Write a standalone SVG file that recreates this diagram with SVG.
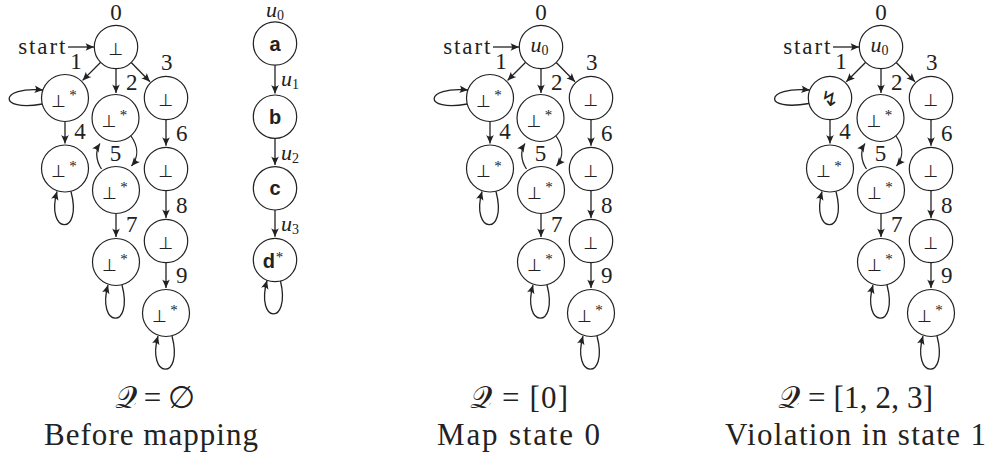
<svg xmlns="http://www.w3.org/2000/svg" width="990" height="457" viewBox="0 0 990 457">
<style>
  .nd circle { fill: #fff; stroke: #222; stroke-width: 1.2; }
  .edge { fill: none; stroke: #222; stroke-width: 1.3; marker-end: url(#arr); }
  .lbl { font-family: "Liberation Serif", serif; font-size: 23px; fill: #222; text-anchor: middle; }
  .st { font-family: "Liberation Serif", serif; font-size: 23px; fill: #222; text-anchor: start; }
  .bot { font-family: "DejaVu Sans", sans-serif; font-size: 17px; fill: #222; text-anchor: middle; }
  .star { font-family: "Liberation Serif", serif; font-size: 15px; fill: #222; }
  .chain { font-family: "Liberation Sans", sans-serif; font-weight: bold; font-size: 20px; fill: #222; text-anchor: middle; }
  .u { font-family: "Liberation Serif", serif; font-style: italic; font-size: 22px; fill: #222; }
  .sub { font-style: normal; font-size: 14px; }
  .cap { font-family: "Liberation Serif", "DejaVu Serif", "DejaVu Sans", serif; font-size: 31px; fill: #222; text-anchor: middle; }
  .bolt { font-family: "DejaVu Sans", sans-serif; font-size: 21px; fill: #222; text-anchor: middle; }
</style>
<defs>
  <marker id="arr" markerUnits="userSpaceOnUse" viewBox="-10 -5 11 10" refX="0" refY="0" markerWidth="11" markerHeight="10" orient="auto">
    <path d="M0,0 L-8.5,-3.8 Q-5.5,0 -8.5,3.8 Z" fill="#222"/>
  </marker>
</defs>

<!-- ================= Diagram 1 ================= -->
<g id="diagram1">
  <g id="d1-connectors">
    <path class="edge" d="M68,47 H94"/>
    <path class="edge" d="M100.7,62.3 L82.6,80.4"/>
    <path class="edge" d="M116,68.7 V93"/>
    <path class="edge" d="M131.2,62.5 L150,81.7"/>
    <path class="edge" d="M65,121.5 V143.5"/>
    <path class="edge" d="M166,119.7 V145.8"/>
    <path class="edge" d="M131,136 C138,146 139,157 131.5,166"/>
    <path class="edge" d="M101.5,169 C96,161 95,151 100,143.5"/>
    <path class="edge" d="M116,213.5 V237"/>
    <path class="edge" d="M166,190.7 V218"/>
    <path class="edge" d="M166,262.7 V288"/>
    <path class="edge" d="M42.3,104 C-3,112 -1,86 43,90"/>
    <path class="edge" d="M71,191.5 C83,237 45,234.5 57,191.5"/>
    <path class="edge" d="M122,285 C134,330.5 96,328 108,285"/>
    <path class="edge" d="M172,336 C184,381.5 146,379 158,336"/>
    <path class="edge" d="M275,65.2 V93.5"/>
    <path class="edge" d="M275,138.4 V165"/>
    <path class="edge" d="M275,210 V236.8"/>
    <path class="edge" d="M280.5,281 C291,326 255,324 267,280.5"/>
    <text class="st" x="18.3" y="54" textLength="47">start</text>
    <text class="lbl" x="116" y="20">0</text>
    <text class="lbl" x="76" y="68.5">1</text>
    <text class="lbl" x="131.7" y="89.5">2</text>
    <text class="lbl" x="166.7" y="70">3</text>
    <text class="lbl" x="80" y="139">4</text>
    <text class="lbl" x="115.5" y="161">5</text>
    <text class="lbl" x="181.7" y="141">6</text>
    <text class="lbl" x="131.7" y="231.5">7</text>
    <text class="lbl" x="181.7" y="213">8</text>
    <text class="lbl" x="181.7" y="283">9</text>
    <text class="u" x="266" y="17">u<tspan class="sub" dy="2.5">0</tspan></text>
    <text class="u" x="281" y="86">u<tspan class="sub" dy="3">1</tspan></text>
    <text class="u" x="281" y="160">u<tspan class="sub" dy="3">2</tspan></text>
    <text class="u" x="281" y="230.5">u<tspan class="sub" dy="3">3</tspan></text>
  </g>
  <g id="d1-n0" class="nd"><circle cx="116" cy="47" r="21.7"/><text class="bot" x="116" y="55">⊥</text></g>
  <g id="d1-n1" class="nd"><circle cx="65" cy="98" r="23.5"/><text class="bot" x="64" y="106.5">⊥<tspan class="star" dx="3" dy="-6.5">*</tspan></text></g>
  <g id="d1-n2" class="nd"><circle cx="115.5" cy="118" r="23.5"/><text class="bot" x="114.5" y="126.5">⊥<tspan class="star" dx="3" dy="-6.5">*</tspan></text></g>
  <g id="d1-n3" class="nd"><circle cx="166" cy="98" r="21.7"/><text class="bot" x="166" y="106">⊥</text></g>
  <g id="d1-n4" class="nd"><circle cx="65" cy="168.5" r="23.5"/><text class="bot" x="64" y="177">⊥<tspan class="star" dx="3" dy="-6.5">*</tspan></text></g>
  <g id="d1-n5" class="nd"><circle cx="116" cy="190" r="23.5"/><text class="bot" x="115" y="198.5">⊥<tspan class="star" dx="3" dy="-6.5">*</tspan></text></g>
  <g id="d1-n6" class="nd"><circle cx="166" cy="169" r="21.7"/><text class="bot" x="166" y="177">⊥</text></g>
  <g id="d1-n7" class="nd"><circle cx="116" cy="262" r="23.5"/><text class="bot" x="115" y="270.5">⊥<tspan class="star" dx="3" dy="-6.5">*</tspan></text></g>
  <g id="d1-n8" class="nd"><circle cx="166" cy="241" r="21.7"/><text class="bot" x="166" y="249">⊥</text></g>
  <g id="d1-n9" class="nd"><circle cx="166" cy="313" r="23.5"/><text class="bot" x="165" y="321.5">⊥<tspan class="star" dx="3" dy="-6.5">*</tspan></text></g>
  <g id="d1-na" class="nd"><circle cx="275" cy="43.5" r="21.7"/><text class="chain" x="275" y="50.5">a</text></g>
  <g id="d1-nb" class="nd"><circle cx="275" cy="116.7" r="21.7"/><text class="chain" x="275" y="123.5">b</text></g>
  <g id="d1-nc" class="nd"><circle cx="275" cy="188.3" r="21.7"/><text class="chain" x="275" y="195">c</text></g>
  <g id="d1-nd" class="nd"><circle cx="275" cy="260" r="21.7"/><text class="chain" x="273" y="267.5">d<tspan class="star" font-weight="normal" dx="1" dy="-6">*</tspan></text></g>
  <text class="cap" x="155" y="408" textLength="80">𝒬 = ∅</text>
  <text class="cap" x="151" y="445" textLength="214">Before mapping</text>
</g>

<!-- ================= Diagram 2 ================= -->
<g id="diagram2" transform="translate(425,0)">
  <g id="d2-connectors">
    <path class="edge" d="M68,47 H94"/>
    <path class="edge" d="M100.7,62.3 L82.6,80.4"/>
    <path class="edge" d="M116,68.7 V93"/>
    <path class="edge" d="M131.2,62.5 L150,81.7"/>
    <path class="edge" d="M65,121.5 V143.5"/>
    <path class="edge" d="M166,119.7 V145.8"/>
    <path class="edge" d="M131,136 C138,146 139,157 131.5,166"/>
    <path class="edge" d="M101.5,169 C96,161 95,151 100,143.5"/>
    <path class="edge" d="M116,213.5 V237"/>
    <path class="edge" d="M166,190.7 V218"/>
    <path class="edge" d="M166,262.7 V288"/>
    <path class="edge" d="M42.3,104 C-3,112 -1,86 43,90"/>
    <path class="edge" d="M71,191.5 C83,237 45,234.5 57,191.5"/>
    <path class="edge" d="M122,285 C134,330.5 96,328 108,285"/>
    <path class="edge" d="M172,336 C184,381.5 146,379 158,336"/>
    <text class="st" x="18.3" y="54" textLength="47">start</text>
    <text class="lbl" x="116" y="20">0</text>
    <text class="lbl" x="76" y="68.5">1</text>
    <text class="lbl" x="131.7" y="89.5">2</text>
    <text class="lbl" x="166.7" y="70">3</text>
    <text class="lbl" x="80" y="139">4</text>
    <text class="lbl" x="115.5" y="161">5</text>
    <text class="lbl" x="181.7" y="141">6</text>
    <text class="lbl" x="131.7" y="231.5">7</text>
    <text class="lbl" x="181.7" y="213">8</text>
    <text class="lbl" x="181.7" y="283">9</text>
  </g>
  <g id="d2-n0" class="nd"><circle cx="116" cy="47" r="21.7"/><text class="u" x="105.5" y="51.5">u<tspan class="sub" dy="3">0</tspan></text></g>
  <g id="d2-n1" class="nd"><circle cx="65" cy="98" r="23.5"/><text class="bot" x="64" y="106.5">⊥<tspan class="star" dx="3" dy="-6.5">*</tspan></text></g>
  <g id="d2-n2" class="nd"><circle cx="115.5" cy="118" r="23.5"/><text class="bot" x="114.5" y="126.5">⊥<tspan class="star" dx="3" dy="-6.5">*</tspan></text></g>
  <g id="d2-n3" class="nd"><circle cx="166" cy="98" r="21.7"/><text class="bot" x="166" y="106">⊥</text></g>
  <g id="d2-n4" class="nd"><circle cx="65" cy="168.5" r="23.5"/><text class="bot" x="64" y="177">⊥<tspan class="star" dx="3" dy="-6.5">*</tspan></text></g>
  <g id="d2-n5" class="nd"><circle cx="116" cy="190" r="23.5"/><text class="bot" x="115" y="198.5">⊥<tspan class="star" dx="3" dy="-6.5">*</tspan></text></g>
  <g id="d2-n6" class="nd"><circle cx="166" cy="169" r="21.7"/><text class="bot" x="166" y="177">⊥</text></g>
  <g id="d2-n7" class="nd"><circle cx="116" cy="262" r="23.5"/><text class="bot" x="115" y="270.5">⊥<tspan class="star" dx="3" dy="-6.5">*</tspan></text></g>
  <g id="d2-n8" class="nd"><circle cx="166" cy="241" r="21.7"/><text class="bot" x="166" y="249">⊥</text></g>
  <g id="d2-n9" class="nd"><circle cx="166" cy="313" r="23.5"/><text class="bot" x="165" y="321.5">⊥<tspan class="star" dx="3" dy="-6.5">*</tspan></text></g>
  <text class="cap" x="94" y="408" textLength="98">𝒬 = [0]</text>
  <text class="cap" x="93.5" y="445" textLength="163">Map state 0</text>
</g>

<!-- ================= Diagram 3 ================= -->
<g id="diagram3" transform="translate(765,0)">
  <g id="d3-connectors">
    <path class="edge" d="M68,47 H94"/>
    <path class="edge" d="M100.7,62.3 L81.3,81.7"/>
    <path class="edge" d="M116,68.7 V93"/>
    <path class="edge" d="M131.2,62.5 L150,81.7"/>
    <path class="edge" d="M65,119.7 V143.5"/>
    <path class="edge" d="M166,119.7 V145.8"/>
    <path class="edge" d="M131,136 C138,146 139,157 131.5,166"/>
    <path class="edge" d="M101.5,169 C96,161 95,151 100,143.5"/>
    <path class="edge" d="M116,213.5 V237"/>
    <path class="edge" d="M166,190.7 V218"/>
    <path class="edge" d="M166,262.7 V288"/>
    <path class="edge" d="M44,103.5 C-3,112 -1,86 44.8,90"/>
    <path class="edge" d="M71,191.5 C83,237 45,234.5 57,191.5"/>
    <path class="edge" d="M122,285 C134,330.5 96,328 108,285"/>
    <path class="edge" d="M172,336 C184,381.5 146,379 158,336"/>
    <text class="st" x="18.3" y="54" textLength="47">start</text>
    <text class="lbl" x="116" y="20">0</text>
    <text class="lbl" x="76" y="68.5">1</text>
    <text class="lbl" x="131.7" y="89.5">2</text>
    <text class="lbl" x="166.7" y="70">3</text>
    <text class="lbl" x="80" y="139">4</text>
    <text class="lbl" x="115.5" y="161">5</text>
    <text class="lbl" x="181.7" y="141">6</text>
    <text class="lbl" x="131.7" y="231.5">7</text>
    <text class="lbl" x="181.7" y="213">8</text>
    <text class="lbl" x="181.7" y="283">9</text>
  </g>
  <g id="d3-n0" class="nd"><circle cx="116" cy="47" r="21.7"/><text class="u" x="105.5" y="51.5">u<tspan class="sub" dy="3">0</tspan></text></g>
  <g id="d3-n1" class="nd"><circle cx="65" cy="98" r="21.7"/><text class="bolt" x="64.5" y="106">↯</text></g>
  <g id="d3-n2" class="nd"><circle cx="115.5" cy="118" r="23.5"/><text class="bot" x="114.5" y="126.5">⊥<tspan class="star" dx="3" dy="-6.5">*</tspan></text></g>
  <g id="d3-n3" class="nd"><circle cx="166" cy="98" r="21.7"/><text class="bot" x="166" y="106">⊥</text></g>
  <g id="d3-n4" class="nd"><circle cx="65" cy="168.5" r="23.5"/><text class="bot" x="64" y="177">⊥<tspan class="star" dx="3" dy="-6.5">*</tspan></text></g>
  <g id="d3-n5" class="nd"><circle cx="116" cy="190" r="23.5"/><text class="bot" x="115" y="198.5">⊥<tspan class="star" dx="3" dy="-6.5">*</tspan></text></g>
  <g id="d3-n6" class="nd"><circle cx="166" cy="169" r="21.7"/><text class="bot" x="166" y="177">⊥</text></g>
  <g id="d3-n7" class="nd"><circle cx="116" cy="262" r="23.5"/><text class="bot" x="115" y="270.5">⊥<tspan class="star" dx="3" dy="-6.5">*</tspan></text></g>
  <g id="d3-n8" class="nd"><circle cx="166" cy="241" r="21.7"/><text class="bot" x="166" y="249">⊥</text></g>
  <g id="d3-n9" class="nd"><circle cx="166" cy="313" r="23.5"/><text class="bot" x="165" y="321.5">⊥<tspan class="star" dx="3" dy="-6.5">*</tspan></text></g>
  <text class="cap" x="90.5" y="408" textLength="155">𝒬 = [1, 2, 3]</text>
  <text class="cap" x="90.5" y="445" textLength="261">Violation in state 1</text>
</g>
</svg>
